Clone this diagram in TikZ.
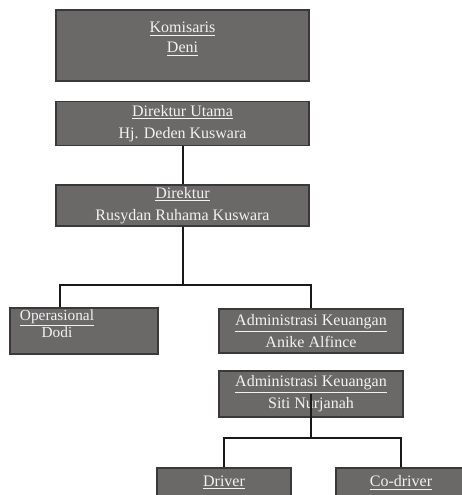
\documentclass[tikz,border=0pt]{standalone}
\usepackage{fontspec}
\setmainfont{Liberation Serif}
\usetikzlibrary{positioning}
\definecolor{boxgray}{HTML}{6B6868}
\definecolor{boxedge}{HTML}{3A3838}
\definecolor{boxtext}{HTML}{F2F2F2}

\begin{document}
\begin{tikzpicture}[
  x=0.75pt, y=-0.75pt,
  font=\fontsize{12}{16.5}\selectfont,
  unit/.style={draw=boxedge, line width=1.2pt, fill=boxgray, text=boxtext,
    align=center, inner sep=0pt},
  wide/.style={unit, minimum width=189.75pt},
  mid/.style={unit, minimum width=138pt},
  small/.style={unit, minimum width=100pt, minimum height=33pt, text depth=13pt},
  link/.style={draw=black!90, line width=1.5pt}
]
\useasboundingbox (0,0) rectangle (461,495);
% top of the chart
\node[wide, minimum height=53.25pt, text depth=12pt,
  font=\fontsize{12}{15}\selectfont] (kom) at (182.5,45.5) {\underline{Komisaris}\\\underline{Deni}};
\node[wide, minimum height=33pt, below=14.25pt of kom] (dirut) {\underline{Direktur Utama}\\Hj. Deden Kuswara};
\node[wide, minimum height=30.75pt, below=28.5pt of dirut] (dir) {\underline{Direktur}\\Rusydan Ruhama Kuswara};
% second level
\node[unit, minimum width=111pt, minimum height=34.5pt] (ops) at (84,331) {};
\node[text=boxtext, align=center, inner sep=0pt,
  font=\fontsize{11.5}{13}\selectfont] (opstxt) at (57,324) {\underline{Operasional}\\Dodi};
\node[mid, minimum height=33pt] (adm1) at (311,331) {\underline{Administrasi Keuangan}\\Anike Alfince};
\node[mid, minimum height=34.5pt] (adm2) at (311,394) {\underline{Administrasi Keuangan}\\Siti Nurjanah};
% drivers
\node[small, minimum width=100.5pt] (drv) at (224,490) {\underline{Driver}};
\node[small, minimum width=97.5pt] (codrv) at (401,490) {\underline{Co-driver}};
% connectors
\coordinate (opsin) at ([xshift=-18pt]ops.north);
\draw[link] (dirut) -- (dir);
\draw[link] (dir.south) -- ++(0,58) coordinate (bus);
\draw[link] (opsin) |- (bus) -| (adm1.north);
\path (adm2.south) ++(0,20) coordinate (bus2);
\draw[link] (adm2.center) -- (bus2);
\draw[link] (drv.north) |- (bus2) -| (codrv.north);
\end{tikzpicture}
\end{document}
